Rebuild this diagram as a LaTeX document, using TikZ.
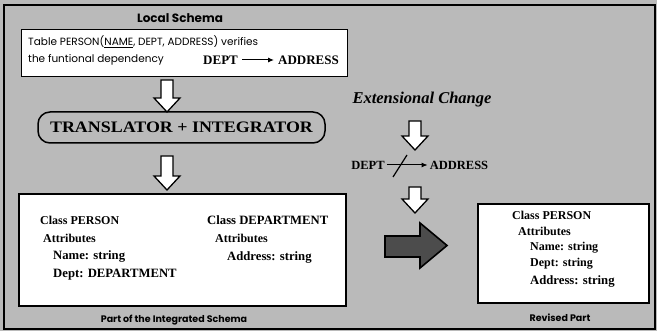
\documentclass[tikz,border=0pt]{standalone}
\usepackage{fontspec}
\setmainfont{Liberation Serif}
\newfontfamily\geo{Poppins}
\newfontfamily\wideserif[FakeStretch=1.12]{Liberation Serif}
\usetikzlibrary{arrows.meta}
\begin{document}
\begin{tikzpicture}[x=1pt,y=-1pt,
  bg/.style={fill=black!27},
  box/.style={draw=black, line width=1.3pt, fill=white, inner sep=0pt},
  lbl/.style={font=\geo\bfseries\fontsize{9.5}{10}\selectfont, inner sep=0pt},
  geotext/.style={font=\geo\fontsize{10.5}{12}\selectfont, inner sep=0pt, anchor=west},
  sb/.style={font=\bfseries\fontsize{12}{14}\selectfont, inner sep=0pt, anchor=west},
  sbl/.style={font=\bfseries\fontsize{12.7}{14}\selectfont, inner sep=0pt, anchor=west},
  sbc/.style={font=\bfseries\fontsize{12.5}{14}\selectfont, inner sep=0pt},
  fdarrow/.style={-{Latex[length=6pt,width=5pt]}, line width=1pt},
  downarr/.pic={\draw[line width=1.3pt, fill=white, line join=miter]
     (-6,0) -- (6,0) -- (6,#1-14) -- (13,#1-14) -- (0,#1) -- (-13,#1-14) -- (-6,#1-14) -- cycle;}
]
\useasboundingbox (0,0) rectangle (657,331);
% background
\fill[bg] (0,0) rectangle (657,331);
\draw[line width=1.2pt] (4,5) rectangle (655,329);

% local schema
\node[lbl, font=\geo\bfseries\fontsize{12}{13}\selectfont] (ls) at (180,18) {Local Schema};
\node[box, anchor=north west, minimum width=326pt, minimum height=47pt] (top) at (21,29) {};
\node[geotext] (l1) at (28,42) {Table PERSON(\underline{NAME}, DEPT, ADDRESS) verifies};
\node[geotext] (l2) at (28,60) {the funtional dependency};
\node[sb, font=\bfseries\fontsize{13}{14}\selectfont] (d1) at (203,60) {DEPT};
\node[sb, font=\bfseries\fontsize{13}{14}\selectfont] (a1) at (278,60) {ADDRESS};
\draw[fdarrow] ([xshift=4pt]d1.east) -- ([xshift=-4pt]a1.west);

\pic at (167,80) {downarr=32};

% translator
\node[draw=black, rounded corners=12pt, line width=1.5pt, minimum width=287pt, minimum height=31pt,
      font=\wideserif\bfseries\fontsize{16}{18}\selectfont, inner sep=0pt] (ti) at (181.5,127.5) {TRANSLATOR + INTEGRATOR};

\pic at (167,156) {downarr=34};

% integrated schema box
\node[box, line width=2pt, anchor=north west, minimum width=327pt, minimum height=112pt] (ib) at (18,193) {};
\node[sb] (c1) at (40,220) {Class PERSON};
\node[sb] (c1a) at (43,238) {Attributes};
\node[sbl] (c1n) at (53,256) {Name: string};
\node[sbl] (c1d) at (53,275) {Dept: DEPARTMENT};
\node[sbl] (c2) at (207,220) {Class DEPARTMENT};
\node[sb] (c2a) at (215,238) {Attributes};
\node[sbl] (c2d) at (227,257) {Address: string};
\node[lbl] (pis) at (174,320) {Part of the Integrated Schema};

% extensional change
\node[font=\bfseries\itshape\fontsize{16.5}{18}\selectfont, inner sep=0pt] (ec) at (422,100) {Extensional Change};
\pic at (415,121) {downarr=29};
\node[sbc] (d2) at (368,165) {DEPT};
\node[sbc] (a2) at (459,165) {ADDRESS};
\draw[fdarrow] ([xshift=2pt]d2.east) -- ([xshift=-2pt]a2.west);
\draw[line width=1.2pt] (393,177) -- (407,155);
\pic at (415,187) {downarr=26};

% big arrow
\draw[line width=1.6pt, fill=black!70, line join=miter]
  (385,236) -- (420,236) -- (420,223) -- (447,245.5) -- (420,268) -- (420,257) -- (385,257) -- cycle;

% revised part
\node[box, line width=1.6pt, anchor=north west, minimum width=171pt, minimum height=99pt] (rb) at (477,203) {};
\node[sb] (r1) at (512,215) {Class PERSON};
\node[sb] (r1a) at (518,231) {Attributes};
\node[sb] (r1n) at (530,248) {Name: string};
\node[sb] (r1d) at (530,264) {Dept: string};
\node[sbl] (r1ad) at (530,281) {Address: string};
\node[lbl] (rp) at (560,318) {Revised Part};
\end{tikzpicture}
\end{document}
